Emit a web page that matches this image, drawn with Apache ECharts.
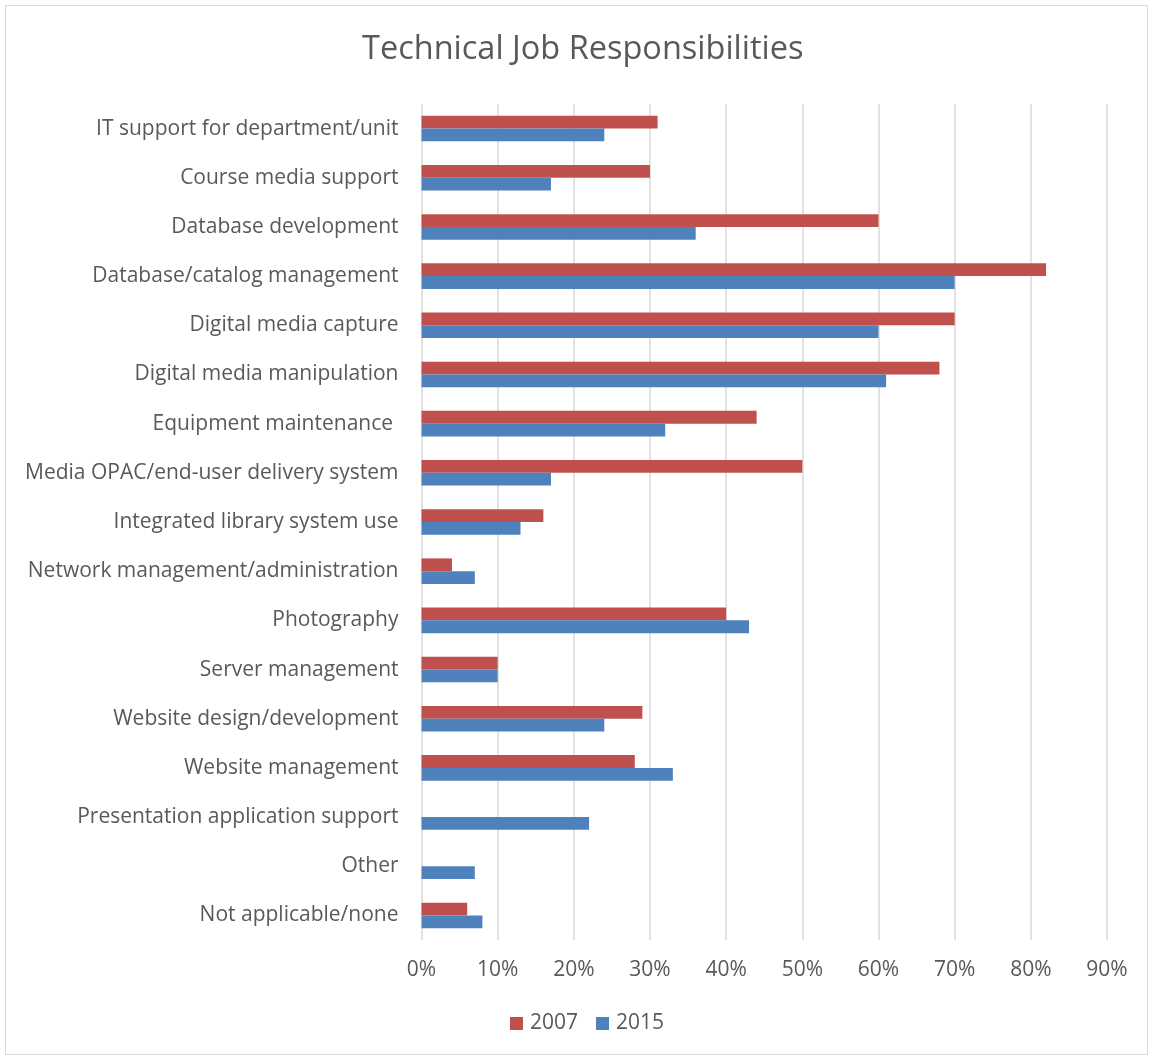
<!DOCTYPE html>
<html>
<head>
<meta charset="utf-8">
<script src="https://cdn.jsdelivr.net/npm/echarts@6/dist/echarts.min.js"></script>
<style>
html,body{margin:0;padding:0;background:#fff;}
#frame{position:absolute;left:5px;top:5px;width:1143px;height:1050px;border:1px solid #d9d9d9;box-sizing:border-box;}
#chart{position:absolute;left:0;top:0;width:1153px;height:1060px;}
</style>
</head>
<body>
<div id="frame"></div>
<div id="chart"></div>
<script>
const categories = [
  "IT support for department/unit",
  "Course media support",
  "Database development",
  "Database/catalog management",
  "Digital media capture",
  "Digital media manipulation",
  "Equipment maintenance ",
  "Media OPAC/end-user delivery system",
  "Integrated library system use",
  "Network management/administration",
  "Photography",
  "Server management",
  "Website design/development",
  "Website management",
  "Presentation application support",
  "Other",
  "Not applicable/none"
];
const values2007 = [31, 30, 60, 82, 70, 68, 44, 50, 16, 4, 40, 10, 29, 28, null, null, 6];
const values2015 = [24, 17, 36, 70, 60, 61, 32, 17, 13, 7, 43, 10, 24, 33, 22, 7, 8];
const xTicks = { min: 0, max: 90, interval: 10 };

const FONT = '"Open Sans"';
const chart = echarts.init(document.getElementById('chart'), null, {renderer: 'canvas'});
chart.setOption({
  animation: false,
  backgroundColor: 'transparent',
  title: {
    text: 'Technical Job Responsibilities',
    left: 362,
    top: 33,
    padding: 0,
    textStyle: {fontFamily: FONT, fontSize: 32.5, fontWeight: 'normal', color: '#595959'}
  },
  legend: {
    data: ['2007', '2015'],
    bottom: 21,
    left: 505,
    itemWidth: 13,
    itemHeight: 13,
    itemGap: 18,
    icon: 'rect',
    textStyle: {fontFamily: FONT, fontSize: 21, color: '#595959', padding: [0, 0, 0, 2]}
  },
  grid: {left: 421.5, right: 46, top: 104, bottom: 120, containLabel: false},
  xAxis: {
    type: 'value',
    min: xTicks.min, max: xTicks.max, interval: xTicks.interval,
    axisLine: {show: false},
    axisTick: {show: false},
    axisLabel: {formatter: '{value}%', fontFamily: FONT, fontSize: 21, color: '#595959', margin: 20},
    splitLine: {show: true, lineStyle: {color: '#d9d9d9', width: 1.5}}
  },
  yAxis: {
    type: 'category',
    data: categories,
    inverse: true,
    axisLine: {show: false},
    axisTick: {show: false},
    axisLabel: {fontFamily: FONT, fontSize: 21, color: '#595959', margin: 23}
  },
  series: [
    {name: '2007', type: 'bar', data: values2007, barGap: '0%', barCategoryGap: '48%',
     itemStyle: {color: '#c0504d'}},
    {name: '2015', type: 'bar', data: values2015, barGap: '0%', barCategoryGap: '48%',
     itemStyle: {color: '#4f81bd'}}
  ]
});
</script>
</body>
</html>
